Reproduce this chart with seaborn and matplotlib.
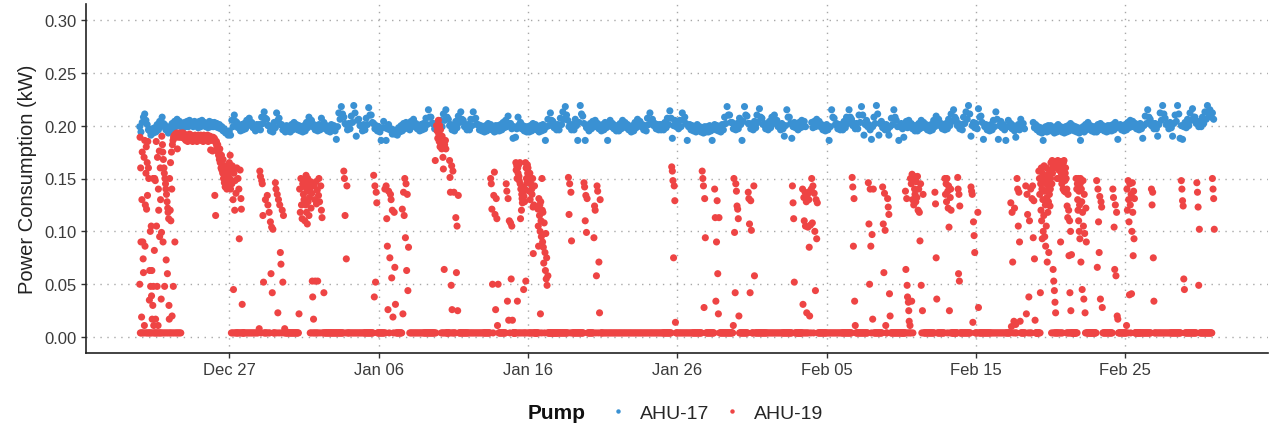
import pandas as pd
import matplotlib
matplotlib.use("Agg")
import matplotlib.pyplot as plt
import matplotlib.dates as mdates
from matplotlib.lines import Line2D
import seaborn as sns

# first reading day (midnight), every row below is one day of readings
start_day = "2018-12-21"

# AHU-17 power, kW x 1000, twelve readings per day (None = missing)
ahu17_days = [
    [199, 194, 203, 208, 211, 205, 201, 196, 195, 191, 197, 193],
    [198, 194, 201, 196, 204, 199, 208, 202, 201, 196, 197, 193],
    [199, 195, 202, 197, 204, 199, 206, 201, 204, 199, 202, 198],
    [203, 199, 204, 199, 205, 200, 203, 199, 204, 200, 203, 198],
    [204, 199, 205, 200, 203, 199, 202, 198, 204, 199, 203, 199],
    [203, 199, 202, 198, 201, 197, 199, 195, 197, 193, 194, 191],
    [195, 191, 205, 199, 210, 204, 203, 198, 199, 195, 201, 196],
    [202, 197, 205, 200, 207, 201, 203, 198, 200, 195, 201, 197],
    [201, 196, 208, 202, 213, 207, 206, 200, 200, 195, 199, 194],
    [203, 198, 212, 205, 207, 201, 201, 196, 199, 194, 200, 195],
    [199, 194, 201, 196, 203, 198, 201, 196, 200, 195, 199, 194],
    [200, 195, 203, 198, 208, 202, 205, 199, 201, 196, 200, 195],
    [201, 196, 207, 201, 203, 197, 200, 195, 199, 194, 201, 196],
    [200, 195, 187, 199, 212, 206, 218, 211, 208, 202, 201, 196],
    [202, 197, 209, 203, 219, 212, 190, 205, 206, 200, 200, 195],
    [201, 196, 207, 201, 217, 210, 210, 203, 202, 197, 200, 195],
    [199, 194, 186, 198, 204, 198, 186, 197, 201, 196, 197, 192],
    [196, 192, 195, 191, 198, 194, 200, 195, 202, 197, 203, 198],
    [201, 196, 204, 199, 206, 200, 202, 197, 200, 195, 201, 196],
    [202, 197, 207, 201, 215, 208, 208, 202, 202, 197, 201, 196],
    [201, 196, 205, 199, 211, 205, 215, 208, 206, 200, 201, 196],
    [200, 195, 204, 198, 209, 203, 213, 206, 205, 199, 201, 196],
    [201, 196, 206, 200, 213, 206, 207, 201, 201, 196, 200, 195],
    [199, 194, 200, 195, 202, 197, 201, 196, 199, 194, 200, 195],
    [200, 195, 201, 196, 203, 198, 205, 199, 209, 202, 202, 197],
    [188, 199, 189, 197, 208, 201, 203, 197, 200, 195, 199, 194],
    [199, 194, 200, 195, 202, 197, 201, 196, 199, 194, 200, 195],
    [201, 196, 186, 199, 206, 200, 212, 205, 204, 198, 201, 196],
    [201, 196, 207, 201, 213, 206, 218, 210, 205, 199, 201, 196],
    [201, 196, 206, 200, 186, 203, 219, 211, 209, 202, 186, 198],
    [200, 195, 202, 197, 204, 199, 205, 199, 202, 197, 200, 195],
    [201, 196, 203, 198, 186, 200, 205, 199, 202, 197, 200, 195],
    [200, 195, 202, 197, 205, 199, 203, 198, 201, 196, 199, 194],
    [200, 195, 203, 198, 206, 200, 204, 199, 201, 196, 200, 195],
    [207, 201, 212, 205, 206, 200, 202, 197, 201, 196, 201, 196],
    [201, 196, 203, 198, 207, 201, 214, 207, 188, 200, 205, 199],
    [202, 197, 205, 199, 212, 205, 208, 202, 186, 199, 201, 196],
    [200, 195, 199, 194, 201, 196, 199, 194, 198, 193, 199, 194],
    [199, 194, 200, 195, 186, 198, 201, 196, 200, 195, 199, 194],
    [201, 196, 208, 202, 218, 210, 210, 203, 203, 197, 201, 196],
    [202, 197, 207, 201, 186, 204, 218, 210, 209, 202, 202, 197],
    [201, 196, 204, 198, 210, 203, 216, 208, 207, 201, 202, 197],
    [201, 196, 204, 198, 208, 202, 210, 203, 205, 199, 201, 196],
    [202, 197, 190, 200, 215, 208, 208, 202, 188, 199, 203, 198],
    [201, 196, 203, 198, 205, 199, 204, 199, None, None, None, None],
    [203, 198, 204, 199, 206, 200, 204, 199, 201, 196, 200, 195],
    [201, 196, 186, 199, 215, 208, 207, 201, 202, 197, 201, 196],
    [201, 196, 204, 198, 208, 202, 215, 208, 206, 200, 202, 197],
    [202, 197, 210, 203, 218, 210, 191, 201, 205, 199, 201, 196],
    [187, 199, 208, 202, 219, 211, 191, 202, 204, 198, 201, 196],
    [201, 196, 191, 199, 207, 201, 215, 208, 205, 199, 186, 199],
    [202, 197, 189, 199, 204, 198, 205, 199, 202, 197, 200, 195],
    [200, 195, 202, 197, 205, 199, 203, 198, 201, 196, 200, 195],
    [201, 196, 205, 199, 209, 202, 206, 200, 202, 197, 201, 196],
    [202, 197, 206, 200, 211, 204, 215, 208, 206, 200, 202, 197],
    [201, 196, 208, 202, 213, 206, 219, 211, 190, 200, 203, 198],
    [202, 197, 216, 208, 209, 203, 187, 199, 201, 196, 200, 195],
    [201, 196, 205, 199, 213, 206, 187, 200, 204, 198, 201, 196],
    [186, 199, 205, 199, 202, 197, 200, 195, 189, 198, 201, 196],
    [206, 200, 202, 197, None, None, None, None, None, None, 203, 198],
    [201, 196, 199, 194, 198, 193, 186, 197, 199, 194, 200, 195],
    [200, 195, 198, 193, 199, 194, 201, 196, 199, 194, 198, 193],
    [199, 194, 200, 195, 202, 197, 200, 195, 199, 194, 198, 193],
    [186, 197, 199, 194, 201, 196, 203, 198, 200, 195, 199, 194],
    [199, 194, 201, 196, 202, 197, 200, 195, 199, 194, 200, 195],
    [200, 195, 201, 196, 203, 198, 187, 199, 201, 196, 200, 195],
    [201, 196, 203, 198, 205, 199, 204, 199, 202, 197, 201, 196],
    [202, 197, 188, 200, 209, 202, 215, 208, 206, 200, 202, 197],
    [202, 197, 190, 201, 212, 205, 219, 211, 207, 201, 202, 197],
    [203, 198, 190, 202, 210, 204, 219, 211, 188, 200, 187, 199],
    [203, 198, 206, 200, 212, 205, 216, 208, 208, 202, 204, 199],
    [204, 199, 208, 202, 213, 206, 219, 211, 215, 208, 212, 206],
]

# AHU-19 power, kW x 1000, readings spread evenly over each day (4 = idle)
ahu19_days = [
    # Dec 21
    [50, 189, 4, 160, 90, 4, 19, 130, 175, 4, 90, 74, 61, 4, 170, 11, 186, 86, 125, 4, 155, 180, 121, 4,
     165, 134, 185, 4, 160, 150, 4, 35, 63, 4, 100, 48, 4, 105, 39, 63, 17, 4, 30, 150, 48, 11, 4, 82],
    [150, 4, 148, 17, 4, 185, 105, 4, 48, 170, 4, 11, 140, 120, 4, 176, 95, 4, 160, 130, 4, 36, 99, 190,
     4, 182, 175, 90, 168, 4, 160, 155, 48, 150, 4, 145, 140, 73, 135, 4, 128, 60, 122, 118, 4, 112, 30, 17],
    [150, 4, 120, 165, 110, 4, 175, 140, 20, 182, 4, 186, 48, 189, 190, 4, 191, 90, 190, 192, 4, 189, 191, 193,
     4, 178, 190, 192, 4, 191, 189, 193, 4, 190, 192, 191, 4, 189, 191, 193, 190, 192, 189, 191, 193, 190, 188, 192],
    [188, 190, 186, 191, 189, 185, 190, 188, 192, 186, 189, 191, 187, 185, 190, 189, 186, 191, 188, 190, 185, 189, 191, 187],
    [189, 187, 191, 186, 190, 188, 185, 191, 189, 187, 190, 186, 188, 191, 185, 189, 187, 190, 177, 188, 186, 176, 189, 187],
    [188, 134, 186, 115, 183, 185, 180, 176, 182, 178, 172, 175, 168, 178, 165, 170, 160, 172,
     158, 163, 155, 168, 150, 160, 146, 155, 142, 162, 148, 152, 140, 158, 145, 150, 142, 155],
    # Dec 27
    [165, 150, 172, 140, 158, 4, 145, 162, 4, 130, 45, 155, 4, 120, 148, 4, 136, 4,
     160, 4, 4, 150, 4, 140, 93, 4, 158, 4, 131, 121, 4, 31, 4, 4, 4, 4],
    [4, 4, 4, 4, 4, 4, 4, 4, 4, 4, 4, 4],
    [8, 157, 152, 4, 148, 145, 115, 52, 4, 4, 130, 4, 4, 134, 125, 4, 118, 4, 109, 60, 104, 42, 102, 4],
    [4, 4, 146, 140, 4, 135, 23, 130, 4, 125, 80, 69, 4, 120, 52, 115, 4, 8, 4, 4, 4, 4, 4, 4],
    [4, 4, 4, 4, 4, 4, 4, 4, 4, 4, 4, 4, 4, 4, 4, 4, 22, 140, 118, 150, 125, 112, 145, 135],
    [130, 148, 110, 142, 125, 153, 118, 138, 107, 150, 128, 145, 115, 132, 140, 4, 147, 122,
     4, 136, 53, 38, 4, 17, 143, 4, 130, 53, 4, 147, 126, 4, 139, 53, 4, 134],
    [150, 128, 4, 143, 120, 113, 4, 4, 42, 4, 4, 4, 4, 4, 4, 4, 4, 4, 4, 4, 4, 4, 4, 4],
    [4, 4, 4, 4, 4, 4, 4, 4, 4, 4, 4, 4, 4, 4, 4, 4, 157, 150, 115, 4, 74, 143, 4, 4],
    [4, 4, 4, 4, 4, 4, 4, 4, 4, 4, 4, 4],
    [4, 4, 4, 4, 4, 4, 4, 4, 4, 4, 4, 4, 4, 4, 4, 4, 153, 38, 143, 52, 137, 127, 4, 4],
    # Jan 06
    [4, 4, 4, 4, 4, 4, 4, 4, 4, 4, 140, 4, 143, 112, 86, 26, 138, 4, 75, 135, 130, 56, 120, 19],
    [4, 118, 66, 31, 4, 4, 4, 4, 4, 4, 4, 4, 4, 4, 121, 22, 137, 115, 150, 94, 145, 63, 135, 44],
    [85, 4, 4, 4, 4, 4, 4, 4, 4, 4, 4, 4],
    [4, 4, 4, 4, 4, 4, 4, 4, 4, 4, 4, 4, 4, 4, 4, 4, 4, 4, 4, 167, 4, 200, 195, 188],
    [205, 192, 185, 200, 180, 196, 183, 4, 178, 190, 4, 170, 159, 4, 64, 182, 4, 186,
     178, 4, 4, 4, 4, 4, 4, 4, 4, 167, 151, 137, 4, 49, 162, 26, 4, 157],
    [4, 137, 4, 4, 113, 61, 105, 25, 134, 4, 4, 4, 4, 4, 4, 4, 4, 4, 4, 4, 4, 4, 4, 4],
    [4, 4, 4, 4, 4, 4, 4, 4, 4, 4, 4, 4],
    [4, 4, 4, 4, 4, 4, 4, 4, 4, 4, 4, 4, 150, 145, 121, 50, 4, 134, 156, 116, 26, 131, 112, 11],
    [50, 4, 4, 4, 4, 4, 4, 4, 4, 4, 4, 4, 4, 145, 138, 34, 131, 16, 110, 4, 108, 55, 105, 16],
    [4, 4, 4, 4, 4, 4, 4, 4, 4, 165, 158, 4, 162, 150, 34, 160, 155, 4, 163, 152, 148, 4, 165, 145,
     112, 140, 4, 120, 135, 131, 127, 4, 142, 137, 45, 133, 4, 128, 140, 4, 165, 53, 160, 150, 4, 146, 163, 155],
    # Jan 16
    [160, 148, 4, 152, 138, 4, 155, 130, 4, 145, 150, 4, 140, 135, 4, 150, 123, 79, 4, 125, 4, 143, 4, 4,
     4, 4, 4, 4, 4, 4, 4, 4, 121, 105, 86, 131, 4, 115, 125, 100, 22, 128, 110, 95, 4, 150, 120, 90],
    [118, 85, 70, 108, 4, 80, 63, 98, 55, 75, 49, 4, 58, 4, 4, 4, 4, 4,
     4, 4, 4, 4, 4, 4, 4, 4, 4, 4, 4, 4, 4, 4, 4, 4, 4, 4],
    [4, 4, 4, 4, 4, 4, 4, 4, 4, 4, 4, 4, 4, 4, 4, 4, 4, 151, 116, 145, 4, 137, 91, 4],
    [4, 4, 4, 4, 4, 4, 4, 4, 4, 4, 4, 4, 4, 4, 4, 4, 4, 4, 146, 142, 110, 134, 99, 131],
    [4, 4, 4, 4, 4, 4, 4, 4, 4, 4, 94, 124, 120, 4, 58, 143, 138, 4, 71, 23, 130, 4, 4, 4],
    [4, 4, 4, 4, 4, 4, 4, 4, 4, 4, 4, 4],
    [4, 4, 4, 4, 4, 4, 4, 4, 4, 4, 4, 4],
    [4, 4, 4, 4, 4, 4, 4, 4, 4, 4, 4, 4],
    [4, 4, 4, 4, 4, 4, 4, 4, 4, 4, 4, 4],
    [4, 4, 4, 4, 4, 4, 4, 4, 4, 4, 4, 4, 4, 4, 4, 161, 157, 148, 75, 143, 129, 14, 4, 4],
    # Jan 26
    [4, 4, 4, 4, 4, 4, 4, 4, 4, 4, 4, 4],
    [4, 4, 4, 4, 4, 4, 4, 4, 4, 4, 4, 4, 4, 4, 4, 4, 157, 150, 143, 28, 131, 94, 4, 4],
    [4, 4, 4, 4, 4, 4, 4, 4, 4, 4, 4, 4, 140, 113, 34, 90, 129, 60, 22, 113, 4, 4, 4, 4],
    [4, 4, 4, 4, 4, 4, 4, 4, 4, 4, 4, 4, 4, 4, 4, 4, 4, 4, 11, 150, 99, 42, 145, 138],
    [124, 121, 112, 20, 4, 4, 4, 4, 4, 4, 4, 4, 4, 4, 4, 4, 4, 4, 137, 131, 107, 42, 129, 101],
    [4, 4, 4, 143, 58, 4, 4, 4, 4, 4, 4, 4, 4, 4, 4, 4, 4, 4, 4, 4, 4, 4, 4, 4],
    [4, 4, 4, 4, 4, 4, 4, 4, 4, 4, 4, 4],
    [4, 4, 4, 4, 4, 4, 4, 4, 4, 4, 4, 4, 4, 4, 4, 4, 4, 143, 127, 112, 52, 4, 4, 4],
    [4, 4, 4, 4, 4, 4, 4, 4, 4, 4, 4, 4, 4, 4, 140, 31, 4, 132, 110, 4, 137, 105, 4, 128,
     23, 4, 135, 104, 4, 130, 85, 20, 138, 106, 4, 140],
    [150, 108, 143, 4, 136, 100, 44, 130, 93, 127, 4, 4, 4, 4, 4, 4, 4, 4, 4, 4, 4, 4, 4, 4],
    # Feb 05
    [4, 4, 4, 4, 4, 4, 4, 4, 4, 4, 4, 4],
    [4, 4, 4, 4, 4, 4, 4, 4, 4, 4, 4, 4, 4, 4, 4, 4, 4, 151, 142, 86, 131, 34, 11, 4],
    [4, 4, 4, 4, 4, 4, 4, 4, 4, 4, 4, 4, 4, 4, 4, 4, 4, 4, 4, 146, 107, 50, 140, 86],
    [4, 97, 17, 140, 4, 4, 4, 4, 4, 4, 4, 4, 4, 4, 4, 4, 4, 4, 142, 107, 61, 136, 101, 11],
    [4, 4, 131, 123, 116, 41, 20, 4, 4, 4, 4, 4, 4, 4, 4, 4, 4, 4, 4, 4, 4, 4, 4, 4],
    [4, 4, 4, 4, 4, 4, 4, 4, 4, 4, 138, 64, 4, 131, 49, 38, 4, 33,
     25, 15, 4, 11, 150, 4, 145, 34, 154, 130, 4, 148, 125, 152, 140, 135, 150, 128],
    [147, 132, 152, 120, 140, 118, 91, 145, 49, 4, 25, 135, 4, 4, 4, 4, 4, 4, 4, 4, 4, 4, 4, 4],
    [4, 4, 4, 4, 4, 4, 137, 126, 75, 36, 4, 4, 4, 4, 4, 4, 4, 4, 4, 4, 4, 4, 150, 135],
    [145, 128, 150, 4, 138, 122, 143, 104, 25, 4, 132, 140, 120, 4, 4, 4, 4, 4,
     4, 4, 4, 4, 4, 4, 4, 4, 4, 4, 151, 140, 60, 135, 53, 124, 4, 4],
    [4, 4, 4, 4, 4, 4, 4, 4, 4, 4, 4, 4, 4, 4, 4, 4, 142, 138, 135, 14, 109, 96, 80, 4],
    # Feb 15
    [4, 4, 4, 118, 28, 4, 4, 4, 4, 4, 4, 4, 4, 4, 4, 4, 4, 4, 4, 4, 4, 4, 4, 4],
    [4, 4, 4, 4, 4, 4, 4, 4, 4, 4, 4, 4],
    [4, 4, 4, 4, 4, 4, 4, 4, 127, 10, 118, 71, 4, 15, 122, 4, 12, 4, 150, 140, 105, 137, 90, 15],
    [4, 4, 4, 4, 4, 4, 4, 4, 143, 22, 135, 116, 4, 38, 110, 4, 140, 4, 131, 143, 94, 129, 74, 16],
    [4, 4, 4, 4, 4, 4, 4, 4, 4, 4, 157, 4, 150, 135, 4, 42, 145, 120, 160, 110, 140, 93, 155, 130,
     100, 148, 115, 162, 138, 95, 152, 125, 86, 145, 105, 160, 132, 71, 150, 118, 140, 128, 80, 155, 135, 146, 124, 140],
    [150, 165, 158, 4, 145, 167, 155, 160, 64, 4, 53, 162, 44, 4, 33, 4, 23, 166, 4, 160, 4, 150, 4, 167,
     4, 163, 158, 165, 4, 150, 160, 4, 90, 166, 155, 4, 145, 162, 4, 157, 140, 165, 152, 167, 138, 160, 148, 155],
    [160, 137, 150, 4, 140, 124, 4, 113, 135, 4, 120, 77, 4, 110, 42, 4, 100, 25, 4, 78, 4, 4, 4, 4,
     4, 4, 4, 4, 4, 4, 4, 4, 4, 4, 150, 4, 140, 4, 145, 130, 120, 150, 110, 138, 100, 125, 93, 145],
    [150, 71, 140, 128, 45, 118, 148, 105, 36, 135, 98, 23, 4, 122, 90, 4, 4, 4,
     4, 4, 4, 4, 4, 4, 4, 4, 4, 4, 4, 4, 4, 4, 4, 4, 4, 4],
    [4, 4, 148, 66, 140, 109, 80, 133, 36, 128, 123, 28, 4, 4, 4, 4, 4, 4, 4, 4, 4, 4, 4, 4],
    [4, 4, 4, 4, 140, 132, 104, 64, 125, 58, 118, 20, 17, 4, 4, 4, 4, 4, 4, 4, 4, 4, 4, 4],
    # Feb 25
    [4, 4, 4, 11, 140, 120, 4, 148, 130, 109, 40, 145, 125, 4, 135, 41, 100, 146,
     118, 77, 138, 93, 131, 4, 4, 4, 4, 4, 4, 4, 4, 4, 4, 4, 4, 4],
    [4, 4, 4, 4, 4, 4, 4, 4, 4, 4, 4, 4, 4, 4, 4, 4, 4, 4, 140, 125, 137, 75, 34, 4],
    [4, 4, 4, 4, 4, 4, 4, 4, 4, 4, 4, 4],
    [4, 4, 4, 4, 4, 4, 4, 4, 4, 4, 4, 4, 4, 4, 4, 4, 4, 4, 148, 140, 129, 124, 55, 45],
    [4, 4, 4, 4, 4, 4, 4, 4, 4, 4, 4, 4, 4, 4, 4, 4, 4, 4, 4, 146, 137, 123, 49, 102],
    [4, 4, 4, 4, 4, 4, 4, 4, 4, 4, 4, 4, 4, 4, 4, 4, 4, 4, 4, 4, 150, 140, 131, 102],
]

pump_names = ["AHU-17", "AHU-19"]
pump_colors = ["#3a91d3", "#ee4444"]

x_tick_days = ["2018-12-27", "2019-01-06", "2019-01-16", "2019-01-26",
               "2019-02-05", "2019-02-15", "2019-02-25"]
y_ticks = [0.00, 0.05, 0.10, 0.15, 0.20, 0.25, 0.30]


def day_rows_to_frame(days, name):
    t0 = pd.Timestamp(start_day)
    recs = []
    for d, vals in enumerate(days):
        for k, v in enumerate(vals):
            if v is None:
                continue
            recs.append({"time": t0 + pd.Timedelta(days=d + k / len(vals)),
                         "kw": v / 1000, "Pump": name})
    return pd.DataFrame(recs)


df = pd.concat([day_rows_to_frame(ahu17_days, pump_names[0]),
                day_rows_to_frame(ahu19_days, pump_names[1])], ignore_index=True)

sns.set_style("ticks")
plt.rcParams["font.family"] = ["Liberation Sans", "DejaVu Sans"]

fig = plt.figure(figsize=(12.74, 4.31), dpi=100)
ax = fig.add_axes([86 / 1274, 1 - 354 / 431, 1182 / 1274, 349 / 431])

sns.scatterplot(data=df, x="time", y="kw", hue="Pump",
                palette=dict(zip(pump_names, pump_colors)),
                s=26, linewidth=0, alpha=1, legend=False, ax=ax, zorder=3)

# ggplot style 5% padding
tmin, tmax = df["time"].min(), df["time"].max()
pad = (tmax - tmin) * 0.05
ax.set_xlim(tmin - pad, tmax + pad)
ax.set_ylim(-0.015, 0.315)

ax.set_xticks(pd.to_datetime(x_tick_days))
ax.xaxis.set_major_formatter(mdates.DateFormatter("%b %d"))
ax.set_yticks(y_ticks)
ax.set_yticklabels([f"{v:.2f}" for v in y_ticks])

ax.grid(True, linestyle=(0, (1, 4)), color="#a8a8a8", linewidth=1.0)
ax.set_axisbelow(True)
for side in ["top", "right"]:
    ax.spines[side].set_visible(False)
for side in ["left", "bottom"]:
    ax.spines[side].set_color("#222222")
    ax.spines[side].set_linewidth(1.2)
ax.tick_params(direction="out", length=3.8, width=1.0, color="#333333",
               labelsize=12, labelcolor="#3a3a3a", pad=3)

ax.set_xlabel("")
ax.set_ylabel("Power Consumption (kW)", fontsize=14.5, color="#222222", labelpad=5)

# legend under the plot: bold title on the left, then the two pumps
handles = [Line2D([], [], marker="o", linestyle="", markersize=3.2,
                  markerfacecolor=c, markeredgewidth=0) for c in pump_colors]
fig.legend(handles, pump_names, ncol=2, loc="center",
           bbox_to_anchor=(715.7 / 1274, 1 - 414 / 431), frameon=False,
           fontsize=14, handlelength=1.0, handletextpad=0.63,
           columnspacing=0.69, borderpad=0, borderaxespad=0)
fig.text(528 / 1274, 1 - 414 / 431, "Pump", fontsize=15, fontweight="bold",
         ha="left", va="center", color="#111111")

fig.savefig("out.png", dpi=100)
